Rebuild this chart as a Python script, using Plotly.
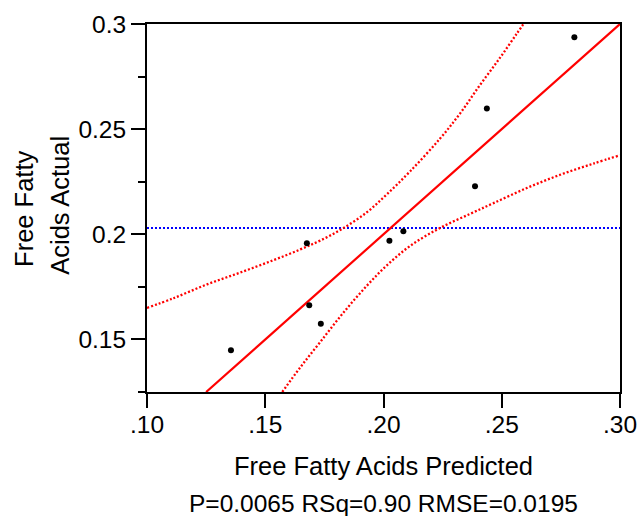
import plotly.graph_objects as go

# ---- data ----
pred = [0.1355, 0.1676, 0.1686, 0.1735, 0.2025, 0.2084, 0.2387, 0.2437, 0.2807]
actual = [0.1449, 0.1957, 0.1663, 0.1575, 0.1969, 0.2014, 0.2228, 0.2598, 0.2937]

fit_x = [0.125, 0.30]
fit_y = [0.125, 0.30]

mean_x = [0.10, 0.30]
mean_y = [0.203, 0.203]

upper_x = [0.100, 0.1112, 0.1254, 0.1394, 0.1535, 0.1648, 0.1732, 0.1824, 0.1930,
           0.2014, 0.2113, 0.2239, 0.2324, 0.2408, 0.2493, 0.2564, 0.2601]
upper_y = [0.1650, 0.1696, 0.1762, 0.1818, 0.1877, 0.1928, 0.1970, 0.2025, 0.2105,
           0.2190, 0.2300, 0.2455, 0.2575, 0.2710, 0.2840, 0.2955, 0.3015]

lower_x = [0.1572, 0.1648, 0.1732, 0.1831, 0.1930, 0.2014, 0.2113, 0.2239, 0.2366,
           0.2465, 0.2606, 0.2747, 0.2887, 0.3000]
lower_y = [0.1250, 0.1367, 0.1487, 0.1628, 0.1756, 0.1852, 0.1945, 0.2030, 0.2097,
           0.2148, 0.2220, 0.2283, 0.2336, 0.2376]

x_ticks = [0.10, 0.15, 0.20, 0.25, 0.30]
x_ticktext = [".10", ".15", ".20", ".25", ".30"]
y_ticks = [0.15, 0.20, 0.25, 0.30]
y_ticktext = ["0.15", "0.2", "0.25", "0.3"]
y_minor = [0.125, 0.175, 0.225, 0.275]

x_title = "Free Fatty Acids Predicted"
subtitle = "P=0.0065 RSq=0.90 RMSE=0.0195"
y_title_lines = ["Free Fatty", "Acids Actual"]

FONT = "Liberation Sans, Arial, sans-serif"

fig = go.Figure()
fig.add_trace(go.Scatter(x=mean_x, y=mean_y, mode="lines",
                         line=dict(color="#0000FF", width=2.2, dash="2px,2px")))
fig.add_trace(go.Scatter(x=upper_x, y=upper_y, mode="lines",
                         line=dict(color="#FF0000", width=2.3, dash="2px,2px", shape="spline", smoothing=1.0)))
fig.add_trace(go.Scatter(x=lower_x, y=lower_y, mode="lines",
                         line=dict(color="#FF0000", width=2.3, dash="2px,2px", shape="spline", smoothing=1.0)))
fig.add_trace(go.Scatter(x=fit_x, y=fit_y, mode="lines",
                         line=dict(color="#FF0000", width=2.2)))
fig.add_trace(go.Scatter(x=pred, y=actual, mode="markers",
                         marker=dict(color="black", size=6, symbol="circle")))

fig.update_layout(
    width=640, height=516,
    margin=dict(l=147, r=20, t=24, b=124, autoexpand=False),
    paper_bgcolor="white", plot_bgcolor="white",
    showlegend=False,
    font=dict(family=FONT, size=24, color="black"),
)
fig.update_xaxes(
    range=[0.10, 0.30], tickvals=x_ticks, ticktext=x_ticktext,
    ticks="outside", ticklen=14, tickwidth=2, tickcolor="black",
    showline=True, linewidth=2, linecolor="black", mirror=True,
    showgrid=False, zeroline=False, automargin=False,
    ticklabelstandoff=-4,
    tickfont=dict(family=FONT, size=24.5, color="black"),
)
fig.update_yaxes(
    range=[0.125, 0.30], tickvals=y_ticks, ticktext=y_ticktext,
    ticks="outside", ticklen=14, tickwidth=2, tickcolor="black",
    showline=True, linewidth=2, linecolor="black", mirror=True,
    showgrid=False, zeroline=False, automargin=False,
    tickfont=dict(family=FONT, size=24.5, color="black"),
    minor=dict(tickvals=y_minor, ticks="outside", ticklen=7, tickwidth=2,
               tickcolor="black", showgrid=False),
)

ann = [
    dict(text=x_title, x=0.5, y=-0.2003, xref="paper", yref="paper",
         xanchor="center", yanchor="middle", showarrow=False,
         font=dict(family=FONT, size=25.5, color="black")),
    dict(text=subtitle, x=0.5, y=-0.3027, xref="paper", yref="paper",
         xanchor="center", yanchor="middle", showarrow=False,
         font=dict(family=FONT, size=24.5, color="black")),
    dict(text=y_title_lines[0], x=-0.2613, y=0.4986, xref="paper", yref="paper",
         xanchor="center", yanchor="middle", textangle=-90, showarrow=False,
         font=dict(family=FONT, size=25.5, color="black")),
    dict(text=y_title_lines[1], x=-0.1845, y=0.508, xref="paper", yref="paper",
         xanchor="center", yanchor="middle", textangle=-90, showarrow=False,
         font=dict(family=FONT, size=25.5, color="black")),
]
fig.update_layout(annotations=ann)

fig.write_html(
    "out.html",
    config={"displayModeBar": False},
    post_script="document.body.style.margin='0';document.body.style.overflow='hidden';",
)
